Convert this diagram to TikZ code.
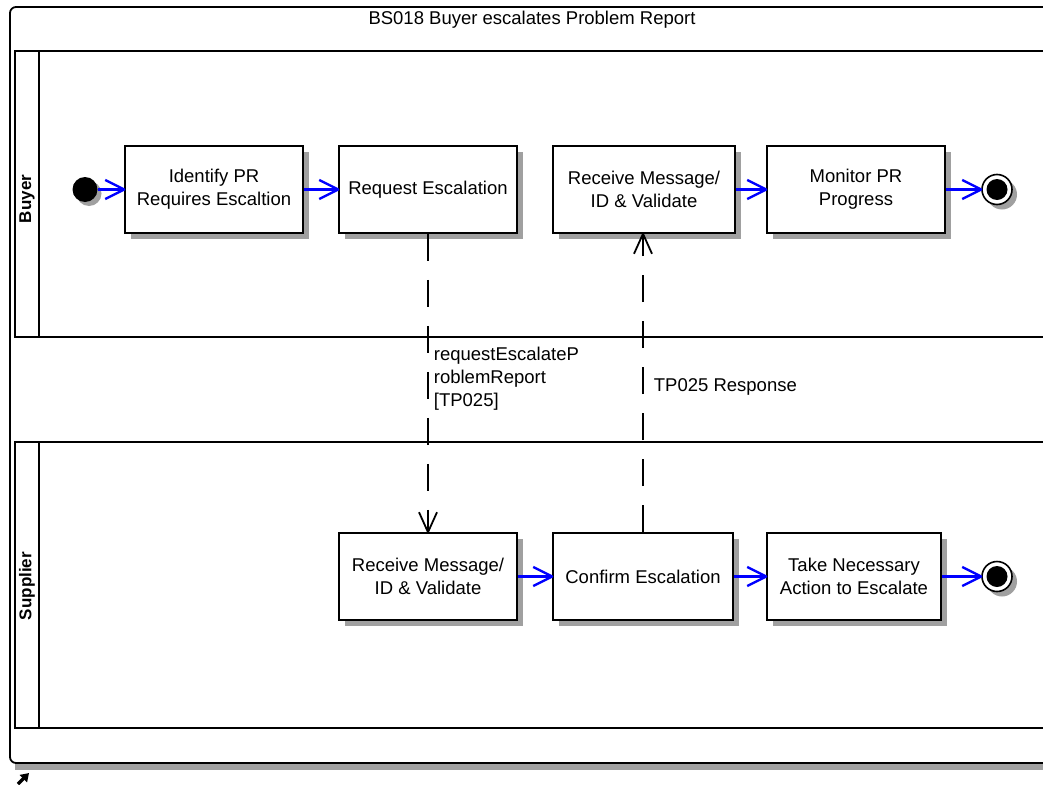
\documentclass[tikz,border=0pt]{standalone}
\usepackage{fontspec}
\setmainfont{Liberation Sans}
\usetikzlibrary{arrows.meta,shadows}
\definecolor{shadegray}{RGB}{160,160,160}
\definecolor{flowblue}{RGB}{0,0,255}

% plain open V head, straight barbs
\pgfdeclarearrow{
  name = OpenVee,
  parameters = {\the\pgfarrowlength,\the\pgfarrowwidth,\the\pgflinewidth},
  setup code = {
    \pgfarrowssettipend{0pt}
    \pgfarrowssetlineend{-0.5\pgflinewidth}
    \pgfarrowshullpoint{0pt}{0pt}
    \pgfarrowsupperhullpoint{-\pgfarrowlength}{0.5\pgfarrowwidth}
    \pgfarrowssavethe\pgfarrowlength
    \pgfarrowssavethe\pgfarrowwidth
  },
  drawing code = {
    \pgfsetdash{}{+0pt}
    \pgfsetroundjoin
    \pgfpathmoveto{\pgfqpoint{-\pgfarrowlength}{0.5\pgfarrowwidth}}
    \pgfpathlineto{\pgfpointorigin}
    \pgfpathlineto{\pgfqpoint{-\pgfarrowlength}{-0.5\pgfarrowwidth}}
    \pgfusepathqstroke
  },
  defaults = {length=18pt, width=18pt}
}

\begin{document}
\begin{tikzpicture}[x=1pt,y=-1pt,
    act/.style={draw,line width=1.6pt,fill=white,align=center,inner sep=0pt,minimum height=87pt,
      font=\fontsize{18.5}{23}\selectfont,
      drop shadow={shadow xshift=6pt,shadow yshift=-6pt,fill=shadegray,opacity=1}},
    initnode/.style={circle,fill=black,inner sep=0pt,minimum size=25pt,
      drop shadow={shadow xshift=4pt,shadow yshift=-4pt,fill=shadegray,opacity=1}},
    finalnode/.style={circle,draw,line width=1.6pt,fill=white,inner sep=0pt,minimum size=30pt,
      path picture={\fill[black] (path picture bounding box.center) circle (10.5pt);},
      drop shadow={shadow xshift=5pt,shadow yshift=-5pt,fill=shadegray,opacity=1}},
    flow/.style={flowblue,line width=2.3pt,-{OpenVee[length=19pt,width=19pt]}},
    msg/.style={line width=1.8pt,dash pattern=on 27pt off 19pt,-{OpenVee[length=20pt,width=18pt]}},
    lbl/.style={font=\fontsize{18.5}{23}\selectfont,inner sep=0pt,align=left},
    lanename/.style={font=\fontsize{17}{17}\selectfont\bfseries,rotate=90,inner sep=0pt},
    lane/.style={line width=1.4pt}]
\useasboundingbox (0,0) rectangle (1043,784);
\clip (0,0) rectangle (1043,784);

% frame and swimlanes
\fill[shadegray] (15,763) rectangle (1070,770);
\draw[line width=1.8pt,rounded corners=6pt,fill=white] (1070,7) -- (10,7) -- (10,763) -- (1070,763);
\node[font=\fontsize{18.5}{22}\selectfont,inner sep=0pt] (title) at (532,20) {BS018 Buyer escalates Problem Report};
\draw[lane] (1070,51) -- (15,51) -- (15,337) -- (1070,337);
\draw[lane] (39,51) -- (39,337);
\draw[lane] (1070,442) -- (15,442) -- (15,728) -- (1070,728);
\draw[lane] (39,442) -- (39,728);
\node[lanename] (buyer) at (27,199) {Buyer};
\node[lanename] (supplier) at (27,586) {Supplier};

% buyer activities
\node[initnode] (start) at (85,189.5) {};
\node[act,minimum width=178pt] (idpr) at (214,189.5) {Identify PR\\Requires Escaltion};
\node[act,minimum width=178pt] (reqesc) at (428,189.5) {Request Escalation};
\node[act,minimum width=182pt] (recvb) at (644,189.5) {Receive Message/\\ID \& Validate};
\node[act,minimum width=178pt] (monpr) at (856,189.5) {Monitor PR\\Progress};
\node[finalnode] (endb) at (997,189.5) {};

% supplier activities
\node[act,minimum width=178pt] (recvs) at (428,576.5) {Receive Message/\\ID \& Validate};
\node[act,minimum width=180pt] (confesc) at (643,576.5) {Confirm Escalation};
\node[act,minimum width=174pt] (takeact) at (854,576.5) {Take Necessary\\Action to Escalate};
\node[finalnode] (ends) at (997,576.5) {};

% control flow
\draw[flow] (start.east) -- (idpr.west);
\draw[flow] (idpr.east) -- (reqesc.west);
\draw[flow] (recvb.east) -- (monpr.west);
\draw[flow] (monpr.east) -- (endb.west);
\draw[flow] (recvs.east) -- (confesc.west);
\draw[flow] (confesc.east) -- (takeact.west);
\draw[flow] (takeact.east) -- (ends.west);

% messages
\draw[msg] (reqesc.south) -- (recvs.north)
  node[lbl,pos=0.375,anchor=north west,xshift=5pt] (reqlbl) {requestEscalateP\\roblemReport\\{[TP025]}};
\draw[msg] (confesc.north) -- (confesc.north |- recvb.south)
  node[lbl,pos=0.47,anchor=base west,xshift=10pt] (resplbl) {TP025 Response};

% link mark
\draw[line width=3.2pt,-{Triangle[length=8pt,width=10pt]}] (18,784) -- (29,773);
\end{tikzpicture}
\end{document}
